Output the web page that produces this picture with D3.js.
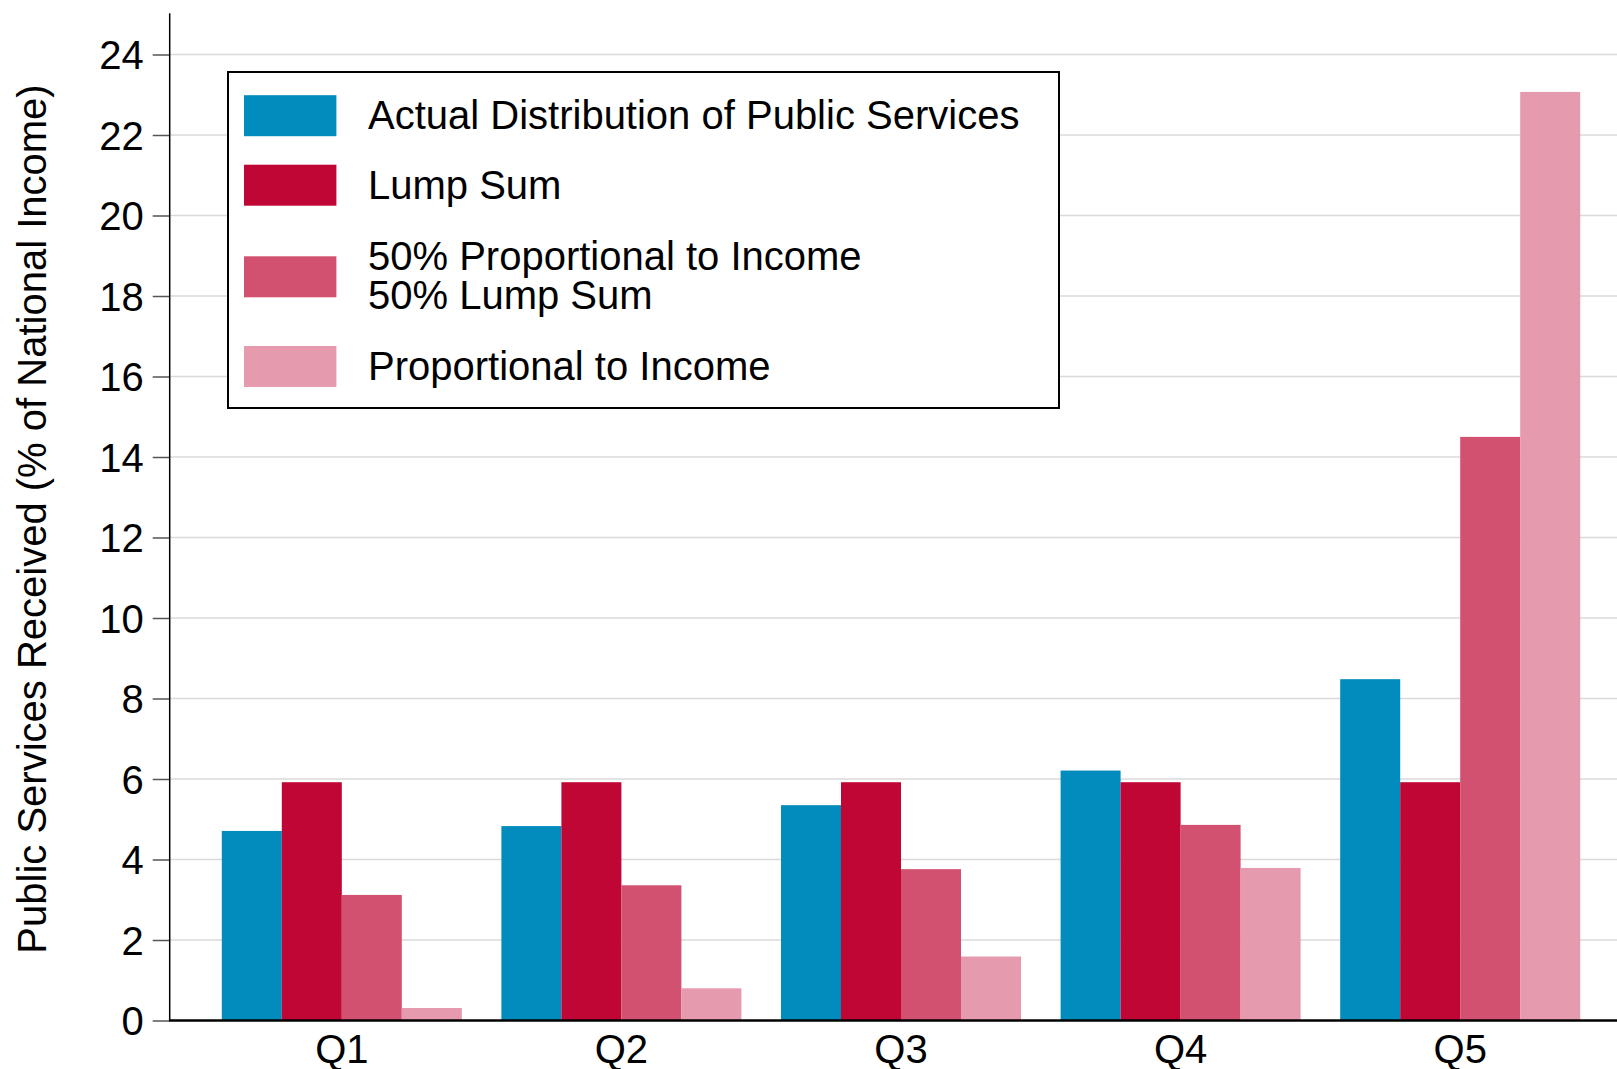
<!DOCTYPE html>
<html>
<head>
<meta charset="utf-8">
<script src="https://cdn.jsdelivr.net/npm/d3@7"></script>
<style>
  html, body { margin: 0; padding: 0; background: #fff; }
  svg { display: block; }
  text { font-family: "Liberation Sans", Arial, sans-serif; fill: #000; }
</style>
</head>
<body>
<script>
const categories = ["Q1", "Q2", "Q3", "Q4", "Q5"];
const seriesNames = [
  "Actual Distribution of Public Services",
  "Lump Sum",
  "50% Proportional to Income\n50% Lump Sum",
  "Proportional to Income"
];
const seriesColors = ["#028bbd", "#c00634", "#d35170", "#e69aae"];
const actualValues = [4.71, 4.83, 5.35, 6.21, 8.48];
const lumpSumValues = [5.92, 5.92, 5.92, 5.92, 5.92];
const halfHalfValues = [3.12, 3.36, 3.76, 4.86, 14.50];
const proportionalValues = [0.31, 0.80, 1.59, 3.79, 23.07];
const yTicks = [0, 2, 4, 6, 8, 10, 12, 14, 16, 18, 20, 22, 24];
const yTitle = "Public Services Received (% of National Income)";

const allSeries = [actualValues, lumpSumValues, halfHalfValues, proportionalValues];

const W = 1617, H = 1069;
const FS = 40;
const svg = d3.select("body").append("svg").attr("width", W).attr("height", H);

const y0px = 1020.5, y24px = 54.5;
const y = d3.scaleLinear().domain([0, 24]).range([y0px, y24px]);
const axisX = 169.7;

const x = d3.scaleBand().domain(categories).range([202, 1600]).paddingInner(0.1416).paddingOuter(0.0708);
const xs = d3.scaleBand().domain(d3.range(seriesNames.length)).range([0, x.bandwidth()]);

// gridlines
svg.append("g").selectAll("line").data(yTicks.filter(t => t > 0)).join("line")
  .attr("x1", axisX).attr("x2", W)
  .attr("y1", d => y(d)).attr("y2", d => y(d))
  .attr("stroke", "#dadada").attr("stroke-width", 1.5);

// bars
const groups = svg.append("g").selectAll("g").data(categories).join("g")
  .attr("transform", c => `translate(${x(c)},0)`);
groups.selectAll("rect").data((c, ci) => allSeries.map((s, si) => ({ si, v: s[ci] }))).join("rect")
  .attr("x", d => xs(d.si))
  .attr("width", xs.bandwidth())
  .attr("y", d => y(d.v))
  .attr("height", d => y(0) - y(d.v))
  .attr("fill", d => seriesColors[d.si]);

// y axis
const yAxis = d3.axisLeft(y).tickValues(yTicks).tickSize(17).tickPadding(9).tickFormat(d3.format("d"));
const ya = svg.append("g").attr("transform", `translate(${axisX},0)`).call(yAxis);
ya.select(".domain").remove();
ya.selectAll(".tick line").attr("stroke", "#555").attr("stroke-width", 1.5);
ya.selectAll(".tick text").attr("font-size", FS).attr("dy", "0.358em")
  .style("font-family", "'Liberation Sans', Arial, sans-serif").attr("fill", "#000");
svg.append("line").attr("x1", axisX).attr("x2", axisX).attr("y1", 13.3).attr("y2", y0px)
  .attr("stroke", "#000").attr("stroke-width", 1.5);

// x axis
const xAxis = d3.axisBottom(x).tickSize(0).tickPadding(0);
const xa = svg.append("g").attr("transform", `translate(0,${y0px})`).call(xAxis);
xa.select(".domain").remove();
xa.selectAll(".tick text").attr("font-size", FS).attr("y", 42).attr("dy", 0)
  .style("font-family", "'Liberation Sans', Arial, sans-serif").attr("fill", "#000");
svg.append("line").attr("x1", axisX - 0.75).attr("x2", W).attr("y1", y0px).attr("y2", y0px)
  .attr("stroke", "#000").attr("stroke-width", 2.5);

// y title
svg.append("text")
  .attr("transform", "translate(45.5,519) rotate(-90)")
  .attr("text-anchor", "middle")
  .attr("font-size", FS)
  .text(yTitle);

// legend
const lg = svg.append("g");
lg.append("rect").attr("x", 228).attr("y", 72).attr("width", 831).attr("height", 336)
  .attr("fill", "#fff").attr("stroke", "#000").attr("stroke-width", 2);
const swatchY = [95.2, 164.7, 256.3, 346];
const textBase = [[128.5], [198.6], [269.7, 309.3], [379.8]];
seriesNames.forEach((name, i) => {
  lg.append("rect").attr("x", 244).attr("y", swatchY[i]).attr("width", 92.4).attr("height", 41)
    .attr("fill", seriesColors[i]);
  const lines = name.split("\n");
  lines.forEach((ln, j) => {
    lg.append("text").attr("x", 368).attr("y", textBase[i][j]).attr("font-size", FS).text(ln);
  });
});
</script>
</body>
</html>
